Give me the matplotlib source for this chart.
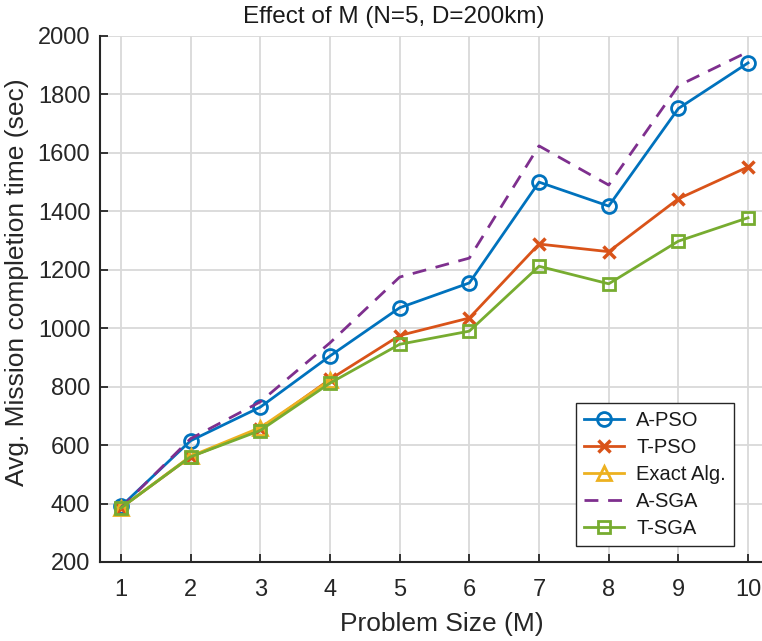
import numpy as np
import matplotlib
matplotlib.use('Agg')
import matplotlib.pyplot as plt

plt.rcParams['font.family'] = ['Liberation Sans', 'DejaVu Sans']

# 数据
M = [1, 2, 3, 4, 5, 6, 7, 8, 9, 10]
a_pso = [390, 615, 730, 905, 1070, 1155, 1500, 1418, 1752, 1908]
t_pso = [385, 560, 655, 825, 975, 1035, 1288, 1262, 1443, 1552]
exact_M = [1, 2, 3, 4]
exact = [385, 562, 660, 822]
a_sga = [385, 622, 748, 950, 1175, 1240, 1624, 1490, 1830, 1946]
t_sga = [385, 560, 650, 812, 945, 990, 1212, 1152, 1298, 1378]

fig = plt.figure(figsize=(7.62, 6.41), dpi=100)
ax = fig.add_axes([100 / 762, 79 / 641, 662 / 762, 526 / 641])

ax.plot(M, a_pso, '-o', color='#0072BD', lw=2, ms=10, mfc='none', mew=2, label='A-PSO')
ax.plot(M, t_pso, '-x', color='#D95319', lw=2, ms=8, mew=2.5, label='T-PSO')
ax.plot(exact_M, exact, '-^', color='#EDB120', lw=2, ms=10, mfc='none', mew=2, label='Exact Alg.')
ax.plot(M, a_sga, '--', color='#7E2F8E', lw=2, dashes=(5, 3.5), label='A-SGA')
ax.plot(M, t_sga, '-s', color='#77AC30', lw=2, ms=8, mfc='none', mew=2, label='T-SGA')

ax.set_xlim(0.7, 10.2)
ax.set_ylim(200, 2000)
ax.set_xticks(M)
ax.set_yticks(np.arange(200, 2001, 200))
ax.grid(True, color='#d9d9d9', lw=1.3)
ax.set_axisbelow(True)
for s in ['top', 'right']:
    ax.spines[s].set_visible(False)
for s in ['left', 'bottom']:
    ax.spines[s].set_color('#262626')
    ax.spines[s].set_linewidth(1.5)
ax.tick_params(direction='in', length=6, width=1.3, colors='#262626', labelsize=17)
ax.tick_params(axis='x', pad=12)
ax.tick_params(axis='y', pad=7)

ax.set_xlabel('Problem Size (M)', fontsize=19, color='#262626')
ax.set_ylabel('Avg. Mission completion time (sec)', fontsize=19, color='#262626')
ax.xaxis.set_label_coords(0.517, -0.095)
ax.yaxis.set_label_coords(-0.108, 0.532)
ax.set_title('Effect of M (N=5, D=200km)', fontsize=17.5, color='#1a1a1a', pad=9, x=0.443)

leg = ax.legend(loc='lower right', bbox_to_anchor=(0.958, 0.03), borderaxespad=0,
                fontsize=14.5, fancybox=False, framealpha=1, edgecolor='#262626',
                handlelength=2.0, borderpad=0.4, labelspacing=0.4, handletextpad=0.6)
leg.get_frame().set_linewidth(1.0)
for t in leg.get_texts():
    t.set_color('#1a1a1a')

fig.savefig('out.png', dpi=100)
